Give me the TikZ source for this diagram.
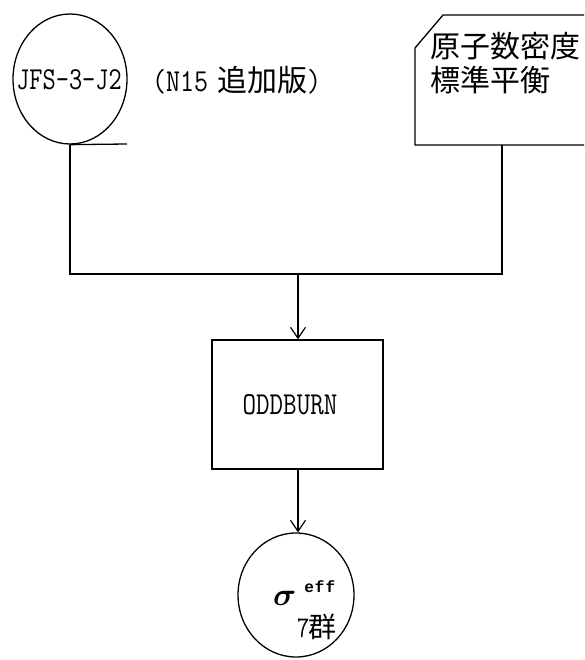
\documentclass[tikz,border=0pt]{standalone}
\usepackage{fontspec}
\newfontfamily\cjk{Noto Sans CJK JP}
\newfontfamily\lmmono{Latin Modern Mono}
\newfontfamily\bmono{Liberation Mono}[BoldFont=* Bold]
\usetikzlibrary{shapes.geometric,arrows.meta}
\tikzset{
  ln/.style={line width=1.3pt},
  arr/.style={ln,-{Straight Barb[length=11pt,width=15pt,line width=1.2pt]}},
  oval/.style={ellipse,draw,ln,inner sep=0pt},
  tt/.style={font=\fontsize{32}{32}\selectfont\lmmono},
  jp/.style={font=\fontsize{30}{34}\selectfont\cjk,align=left,anchor=north west,inner sep=0pt},
}
\begin{document}
\begin{tikzpicture}[x=1pt,y=-1pt]
\clip (0,0) rectangle (584,660);
\fill[white] (0,0) rectangle (584,660);
% JFS circle
\node[oval,minimum width=114pt,minimum height=130pt] (jfs) at (70,79) {};
\node[tt,inner sep=0pt,xscale=0.8] (jfst) at (69,80) {JFS-3-J2};
\node[inner sep=0pt,anchor=west] (add) at (152,80)
  {\fontsize{32}{32}\lmmono\scalebox{0.85}[1]{(N15}\hspace{9pt}\cjk\fontsize{30}{30}\selectfont 追加版\lmmono\fontsize{32}{32}\selectfont\scalebox{0.85}[1]{)}};
\coordinate (jfsr) at (127,144);
\draw[ln] (jfs.south) -- (jfsr);
% card
\coordinate (c1) at (415,48);
\coordinate (c2) at (443,15);
\coordinate (c3) at (600,15);
\coordinate (c4) at (600,145);
\coordinate (c5) at (415,145);
\draw[ln] (c1) -- (c2) -- (c3) -- (c4) -- (c5) -- cycle;
\node[jp] (card) at (430,32) {原子数密度\\標準平衡};
\coordinate (cb) at (502,145);
% junction
\coordinate (jl) at (70,274);
\coordinate (jr) at (502,274);
\coordinate (jm) at (298,274);
\draw[ln] (jfs.south) -- (jl) -- (jr) -- (cb);
% ODDBURN box
\node[draw,ln,minimum width=171pt,minimum height=129pt,inner sep=0pt] (odd) at (297.5,404.5) {};
\node[tt,inner sep=0pt,xscale=0.82] (oddt) at (290,405) {ODDBURN};
\draw[arr] (jm) -- (jm |- odd.north);
% sigma circle
\node[oval,minimum width=116pt,minimum height=124pt] (sig) at (296,595) {};
\draw[arr] (odd.south -| jm) -- (sig.north -| jm);
\node[inner sep=0pt,anchor=base west] (sigt) at (273,605)
  {\scalebox{3.2}{\boldmath$\sigma$}\hspace{8pt}\raisebox{13pt}{\fontsize{16}{16}\selectfont\bmono\bfseries e\hspace{1pt}f\hspace{1pt}f}};
\node[inner sep=0pt,anchor=base west] (grp) at (297,637)
  {\fontsize{30}{30}\lmmono\scalebox{0.8}[1]{7}\hspace{-1pt}\cjk\fontsize{28}{28}\selectfont 群};
\end{tikzpicture}
\end{document}
